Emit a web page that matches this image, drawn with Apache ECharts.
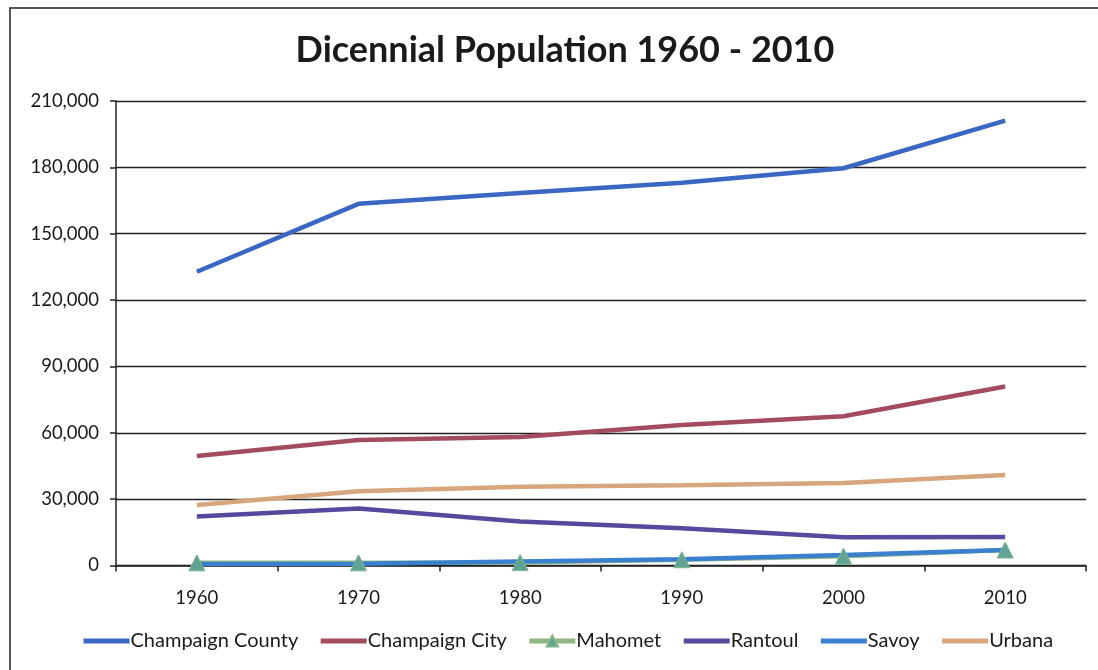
<!DOCTYPE html>
<html>
<head>
<meta charset="utf-8">
<script src="https://cdn.jsdelivr.net/npm/echarts@6/dist/echarts.min.js"></script>
<style>
html,body{margin:0;padding:0;background:#fff;}
#chart{width:1098px;height:670px;}
</style>
</head>
<body>
<div id="chart"></div>
<script>
const years = ['1960', '1970', '1980', '1990', '2000', '2010'];
const champaignCounty = [132800, 163500, 168400, 173000, 179600, 201100];
const champaignCity = [49500, 56700, 58100, 63500, 67500, 80900];
const mahomet = [1200, 1200, 1300, 2600, 4200, 7000];
const rantoul = [22100, 25800, 19900, 16800, 12800, 12900];
const savoy = [700, 800, 1800, 2800, 4700, 7000];
const urbana = [27300, 33600, 35600, 36300, 37300, 40900];
const yTicks = [0, 30000, 60000, 90000, 120000, 150000, 180000, 210000];
const seriesNames = ['Champaign County', 'Champaign City', 'Mahomet', 'Rantoul', 'Savoy', 'Urbana'];

const FONT = 'Lato';
const chart = echarts.init(document.getElementById('chart'), null, {renderer: 'canvas'});

function lineSeries(name, data, color, extra) {
  return Object.assign({
    name: name,
    type: 'line',
    data: data,
    symbol: 'none',
    smooth: false,
    lineStyle: {color: color, width: 4.5},
    itemStyle: {color: color},
    animation: false
  }, extra || {});
}

const option = {
  backgroundColor: '#fff',
  animation: false,
  title: {
    text: 'Dicennial Population 1960 - 2010',
    left: 560,
    textAlign: 'center',
    top: 27,
    textStyle: {fontFamily: FONT, fontWeight: 'bold', fontSize: 36, color: '#1a1a1a'}
  },
  graphic: [{
    type: 'rect',
    shape: {x: 10, y: 8, width: 1110, height: 690},
    style: {fill: 'none', stroke: '#222', lineWidth: 1.5},
    silent: true
  }],
  grid: {left: 116, right: 12, top: 101, bottom: 104.5, containLabel: false},
  legend: {
    bottom: 14,
    left: 76,
    itemWidth: 46,
    itemHeight: 14,
    itemGap: 20,
    lineStyle: {width: 5},
    textStyle: {fontFamily: FONT, fontSize: 20, color: '#1a1a1a', padding: [0, 0, 0, -4]},
    data: seriesNames.map(function (n) {
      return n === 'Mahomet' ? {name: n} : {name: n, itemStyle: {opacity: 0}};
    })
  },
  xAxis: {
    type: 'category',
    data: years,
    boundaryGap: true,
    axisLine: {show: true, lineStyle: {color: '#222', width: 1.5}},
    axisTick: {show: true, alignWithLabel: false, length: 6, lineStyle: {color: '#222', width: 1.5}},
    axisLabel: {fontFamily: FONT, fontSize: 18.5, color: '#1a1a1a', margin: 23},
    splitLine: {show: false}
  },
  yAxis: {
    type: 'value',
    min: 0,
    max: 210000,
    interval: 30000,
    axisLine: {show: true, lineStyle: {color: '#222', width: 1.5}},
    axisTick: {show: true, length: 6, lineStyle: {color: '#222', width: 1.5}},
    axisLabel: {
      fontFamily: FONT, fontSize: 18.5, color: '#1a1a1a', margin: 17,
      formatter: function (v) { return yTicks.indexOf(v) >= 0 ? v.toLocaleString('en-US') : ''; }
    },
    splitLine: {show: true, lineStyle: {color: '#222', width: 1.3}}
  },
  series: [
    lineSeries(seriesNames[0], champaignCounty, '#3a66c4'),
    lineSeries(seriesNames[1], champaignCity, '#a34c60'),
    lineSeries(seriesNames[2], mahomet, '#8fb784', {
      symbol: 'triangle', symbolSize: 16, showSymbol: true,
      itemStyle: {color: '#5fa394', borderColor: '#7fb58a', borderWidth: 1},
      lineStyle: {color: '#8fb784', width: 4.5}
    }),
    lineSeries(seriesNames[3], rantoul, '#574a9c'),
    lineSeries(seriesNames[4], savoy, '#3b80cf'),
    lineSeries(seriesNames[5], urbana, '#d8a57c')
  ]
};
chart.setOption(option);
</script>
</body>
</html>
